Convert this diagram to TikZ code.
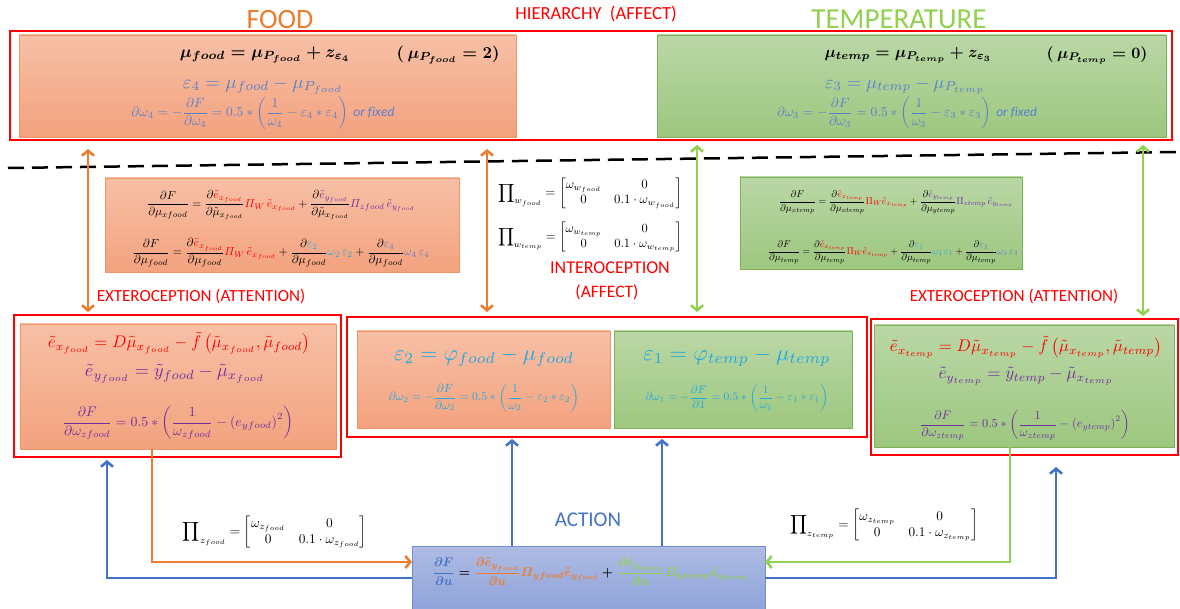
\documentclass[tikz,border=0pt]{standalone}
\usepackage{amsmath}
\usepackage{graphicx}
\usepackage{fontspec}
\setmainfont{Carlito}
\usetikzlibrary{arrows.meta,shadings}

\definecolor{framered}{RGB}{255,0,0}
\definecolor{otop}{RGB}{247,192,166}
\definecolor{obot}{RGB}{243,162,126}
\definecolor{obord}{RGB}{240,150,100}
\definecolor{gtop}{RGB}{186,215,166}
\definecolor{gbot}{RGB}{157,199,127}
\definecolor{gbord}{RGB}{125,178,90}
\definecolor{btop}{RGB}{174,187,227}
\definecolor{bbot}{RGB}{138,160,216}
\definecolor{bbord}{RGB}{112,142,205}
\definecolor{corange}{RGB}{237,125,49}
\definecolor{cgreen}{RGB}{146,208,80}
\definecolor{cblue}{RGB}{68,114,196}
\definecolor{tblue}{RGB}{90,128,205}
\definecolor{tcyan}{RGB}{35,168,225}
\definecolor{tpurple}{RGB}{112,48,160}
\definecolor{tred}{RGB}{255,0,0}

% formula scaled to a given width (in pt)
\newcommand{\eqw}[2]{\resizebox{#1pt}{!}{$\displaystyle #2$}}
\newcommand{\eqwb}[2]{\resizebox{#1pt}{!}{\boldmath$\displaystyle #2$}}

\begin{document}
\begin{tikzpicture}[x=1pt,y=-1pt,
  frame/.style={draw=framered,line width=2.4pt,inner sep=0pt,outer sep=0pt,anchor=north west},
  obox/.style={draw=obord,line width=0.8pt,top color=otop,bottom color=obot,inner sep=0pt,outer sep=0pt,anchor=north west},
  gbox/.style={draw=gbord,line width=0.8pt,top color=gtop,bottom color=gbot,inner sep=0pt,outer sep=0pt,anchor=north west},
  bbox/.style={draw=bbord,line width=0.8pt,top color=btop,bottom color=bbot,inner sep=0pt,outer sep=0pt,anchor=north west},
  eq/.style={inner sep=0pt,outer sep=0pt},
  lbl/.style={inner sep=0pt,outer sep=0pt},
  oconn/.style={draw=corange,line width=2.6pt},
  gconn/.style={draw=cgreen,line width=2.6pt},
  bconn/.style={draw=cblue,line width=2.6pt},
  >={Straight Barb[length=5pt,width=12pt]}
]
\useasboundingbox[fill=white] (0,0) rectangle (1180,609);

% ---------- coloured boxes ----------
\node[obox,minimum width=497pt,minimum height=102pt] (foodtop) at (19,35) {};
\node[gbox,minimum width=509pt,minimum height=102pt] (temptop) at (657,35) {};
\node[obox,minimum width=354pt,minimum height=94pt] (gradfood) at (105,178) {};
\node[gbox,minimum width=282pt,minimum height=92pt] (gradtemp) at (740,177) {};
\node[obox,minimum width=316pt,minimum height=125pt] (extLin) at (20,324) {};
\node[obox,minimum width=253pt,minimum height=97pt] (eps2box) at (357,331) {};
\node[gbox,minimum width=238pt,minimum height=97pt] (eps1box) at (614,331) {};
\node[gbox,minimum width=300pt,minimum height=122pt] (extRin) at (874,325) {};
\node[bbox,minimum width=353pt,minimum height=75pt] (actbox) at (412,546) {};

% ---------- red frames ----------
\node[frame,minimum width=1162pt,minimum height=109pt] (hier) at (10,31) {};
\node[frame,minimum width=327pt,minimum height=142pt] (extL) at (14,315) {};
\node[frame,minimum width=520pt,minimum height=120pt] (intero) at (347,317) {};
\node[frame,minimum width=307pt,minimum height=136pt] (extR) at (871,319) {};

% ---------- titles and labels ----------
\node[lbl,text=corange,font=\fontsize{28}{30}\selectfont] (foodt) at (280,20) {FOOD};
\node[lbl,text=cgreen,font=\fontsize{29}{31}\selectfont] (tempt) at (899,19) {TEMPERATURE};
\node[lbl,text=tred,font=\fontsize{18.5}{20}\selectfont] (hiert) at (596,14) {HIERARCHY\ \ (AFFECT)};
\node[lbl,text=tred,font=\fontsize{17}{19}\selectfont] (exlt) at (201,296) {EXTEROCEPTION (ATTENTION)};
\node[lbl,text=tred,font=\fontsize{17}{19}\selectfont] (exrt) at (1014,296) {EXTEROCEPTION (ATTENTION)};
\node[lbl,text=tred,font=\fontsize{18}{20}\selectfont] (intt) at (610,268) {INTEROCEPTION};
\node[lbl,text=tred,font=\fontsize{17.5}{19}\selectfont] (afft) at (607,292) {(AFFECT)};
\node[lbl,text=cblue,font=\fontsize{21}{23}\selectfont] (actt) at (588,520) {ACTION};

% ---------- hierarchy: food ----------
\node[eq] (f1) at (265,55) {\eqwb{170}{\mu_{food} = \mu_{P_{food}} + z_{\varepsilon_4}}};
\node[eq] (f1b) at (448,55) {\eqwb{103}{(\ \mu_{P_{food}} = 2)}};
\node[eq,text=tblue] (f2) at (263,86) {\eqw{160}{\varepsilon_4 = \mu_{food} - \mu_{P_{food}}}};
\node[eq,text=tblue] (f3) at (263,113) {\eqw{263}{\partial\omega_4 = -\frac{\partial F}{\partial\omega_4} = 0.5 * \left(\frac{1}{\omega_4} - \varepsilon_4 * \varepsilon_4\right)\ \mathit{or\ fixed}}};

% ---------- hierarchy: temperature ----------
\node[eq] (t1) at (908,55) {\eqwb{167}{\mu_{temp} = \mu_{P_{temp}} + z_{\varepsilon_3}}};
\node[eq] (t1b) at (1097,55) {\eqwb{101}{(\ \mu_{P_{temp}} = 0)}};
\node[eq,text=tblue] (t2) at (905,86) {\eqw{160}{\varepsilon_3 = \mu_{temp} - \mu_{P_{temp}}}};
\node[eq,text=tblue] (t3) at (907,113) {\eqw{260}{\partial\omega_3 = -\frac{\partial F}{\partial\omega_3} = 0.5 * \left(\frac{1}{\omega_3} - \varepsilon_3 * \varepsilon_3\right)\ \mathit{or\ fixed}}};

% ---------- gradients: food ----------
\node[eq] (gf1) at (281,205) {\eqw{268}{\frac{\partial F}{\partial\mu_{xfood}} = \frac{\partial{\color{tred}\tilde e_{x_{food}}}}{\partial\tilde\mu_{x_{food}}}{\color{tred}\varPi_W\,\tilde e_{x_{food}}} + \frac{\partial{\color{tpurple}\tilde e_{y_{food}}}}{\partial\tilde\mu_{x_{food}}}{\color{tpurple}\varPi_{zfood}\,\tilde e_{y_{food}}}}};
\node[eq] (gf2) at (281,253) {\eqw{297}{\frac{\partial F}{\partial\mu_{food}} = \frac{\partial{\color{tred}\tilde e_{x_{food}}}}{\partial\mu_{food}}{\color{tred}\varPi_W\,\tilde e_{x_{food}}} + \frac{\partial{\color{tcyan}\varepsilon_2}}{\partial\mu_{food}}{\color{tcyan}\omega_2\,\varepsilon_2} + \frac{\partial{\color{tblue}\varepsilon_4}}{\partial\mu_{food}}{\color{tblue}\omega_4\,\varepsilon_4}}};

% ---------- gradients: temperature ----------
\node[eq] (gt1) at (896,202) {\eqw{234}{\frac{\partial F}{\partial\mu_{xtemp}} = \frac{\partial{\color{tred}\tilde e_{x_{temp}}}}{\partial\mu_{xtemp}}{\color{tred}\Pi_W\tilde e_{x_{temp}}} + \frac{\partial{\color{tpurple}\tilde e_{y_{temp}}}}{\partial\mu_{ytemp}}{\color{tpurple}\Pi_{ztemp}\,\tilde e_{y_{temp}}}}};
\node[eq] (gt2) at (893,252) {\eqw{250}{\frac{\partial F}{\partial\mu_{temp}} = \frac{\partial{\color{tred}\tilde e_{x_{temp}}}}{\partial\mu_{temp}}{\color{tred}\Pi_W\tilde e_{x_{temp}}} + \frac{\partial{\color{tcyan}\varepsilon_1}}{\partial\mu_{temp}}{\color{tcyan}\omega_1\,\varepsilon_1} + \frac{\partial{\color{tblue}\varepsilon_3}}{\partial\mu_{temp}}{\color{tblue}\omega_3\,\varepsilon_3}}};

% ---------- precision matrices ----------
\node[eq] (pwf) at (590,193) {\eqw{184}{\prod\nolimits_{w_{food}} = \begin{bmatrix}\omega_{w_{food}} & 0\\ 0 & 0.1\cdot\omega_{w_{food}}\end{bmatrix}}};
\node[eq] (pwt) at (590,237) {\eqw{184}{\prod\nolimits_{w_{temp}} = \begin{bmatrix}\omega_{w_{temp}} & 0\\ 0 & 0.1\cdot\omega_{w_{temp}}\end{bmatrix}}};
\node[eq] (pzf) at (275,532) {\eqw{184}{\prod\nolimits_{z_{food}} = \begin{bmatrix}\omega_{z_{food}} & 0\\ 0 & 0.1\cdot\omega_{z_{food}}\end{bmatrix}}};
\node[eq] (pzt) at (884,525) {\eqw{188}{\prod\nolimits_{z_{temp}} = \begin{bmatrix}\omega_{z_{temp}} & 0\\ 0 & 0.1\cdot\omega_{z_{temp}}\end{bmatrix}}};

% ---------- exteroception: food ----------
\node[eq,text=tred] (ef1) at (179,343) {\eqw{262}{\tilde e_{x_{food}} = D\tilde\mu_{x_{food}} - \tilde f\left(\tilde\mu_{x_{food}},\tilde\mu_{food}\right)}};
\node[eq,text=tpurple] (ef2) at (175,374) {\eqw{180}{\tilde e_{y_{food}} = \tilde y_{food} - \tilde\mu_{x_{food}}}};
\node[eq,text=tpurple] (ef3) at (178,423) {\eqw{231}{\frac{\partial F}{\partial\omega_{zfood}} = 0.5 * \left(\frac{1}{\omega_{zfood}} - \left(e_{yfood}\right)^2\right)}};

% ---------- exteroception: temperature ----------
\node[eq,text=tred] (et1) at (1026,347) {\eqw{272}{\tilde e_{x_{temp}} = D\tilde\mu_{x_{temp}} - \tilde f\left(\tilde\mu_{x_{temp}},\tilde\mu_{temp}\right)}};
\node[eq,text=tpurple] (et2) at (1026,376) {\eqw{175}{\tilde e_{y_{temp}} = \tilde y_{temp} - \tilde\mu_{x_{temp}}}};
\node[eq,text=tpurple] (et3) at (1025,425) {\eqw{210}{\frac{\partial F}{\partial\omega_{ztemp}} = 0.5 * \left(\frac{1}{\omega_{ztemp}} - \left(e_{ytemp}\right)^2\right)}};

% ---------- interoception ----------
\node[eq,text=tcyan] (e21) at (484,357) {\eqw{180}{\varepsilon_2 = \varphi_{food} - \mu_{food}}};
\node[eq,text=tcyan] (e22) at (484,398) {\eqw{190}{\partial\omega_2 = -\frac{\partial F}{\partial\omega_2} = 0.5 * \left(\frac{1}{\omega_2} - \varepsilon_2 * \varepsilon_2\right)}};
\node[eq,text=tcyan] (e11) at (737,357) {\eqw{187}{\varepsilon_1 = \varphi_{temp} - \mu_{temp}}};
\node[eq,text=tcyan] (e12) at (737,398) {\eqw{183}{\partial\omega_1 = -\frac{\partial F}{\partial 1} = 0.5 * \left(\frac{1}{\omega_1} - \varepsilon_1 * \varepsilon_1\right)}};

% ---------- action ----------
\node[eq] (act) at (590,572) {\eqwb{315}{{\color{cblue}\frac{\partial F}{\partial u}} = {\color{corange}\frac{\partial\tilde e_{y_{food}}}{\partial u}\varPi_{yfood}\tilde e_{y_{food}}} + {\color{cgreen}\frac{\partial\tilde e_{y_{temp}}}{\partial u}\varPi_{ytemp}\tilde e_{y_{temp}}}}};

% ---------- separator ----------
\coordinate (sepL) at (8,168);
\coordinate (sepR) at (1176,152);
\draw[line width=2.5pt,dash pattern=on 16pt off 8pt] (sepL) -- (sepR);

% ---------- connector columns ----------
\coordinate (xa) at (88,0);
\coordinate (xb) at (487,0);
\coordinate (xc) at (697,0);
\coordinate (xd) at (1143,0);
\coordinate (xo) at (152,0);
\coordinate (xg) at (1010,0);
\coordinate (xbl) at (107,0);
\coordinate (xbr) at (1056,0);
\coordinate (xu1) at (512,0);
\coordinate (xu2) at (662,0);
\coordinate (yo) at (0,562);
\coordinate (yb) at (0,578);

% hierarchy <-> sensory levels
\draw[oconn,<->,shorten <=9pt,shorten >=3pt] (hier.south -| xa) -- (extL.north -| xa);
\draw[oconn,<->,shorten <=9pt,shorten >=5pt] (hier.south -| xb) -- (intero.north -| xb);
\draw[gconn,<->,shorten <=5pt,shorten >=5pt] (hier.south -| xc) -- (intero.north -| xc);
\draw[gconn,<->,shorten <=5pt,shorten >=3pt] (hier.south -| xd) -- (extR.north -| xd);

% sensory errors to action
\draw[oconn,->] (extLin.south -| xo) |- (actbox.west |- yo);
\draw[gconn,->] (extRin.south -| xg) |- (actbox.east |- yo);

% action back to the senses
\draw[bconn,->,shorten >=3pt] (actbox.west |- yb) -| (extL.south -| xbl);
\draw[bconn,->,shorten >=12pt] (actbox.east |- yb) -| (extR.south -| xbr);
\draw[bconn,->,shorten >=2pt] (actbox.north -| xu1) -- (intero.south -| xu1);
\draw[bconn,->,shorten >=2pt] (actbox.north -| xu2) -- (intero.south -| xu2);
\end{tikzpicture}
\end{document}
